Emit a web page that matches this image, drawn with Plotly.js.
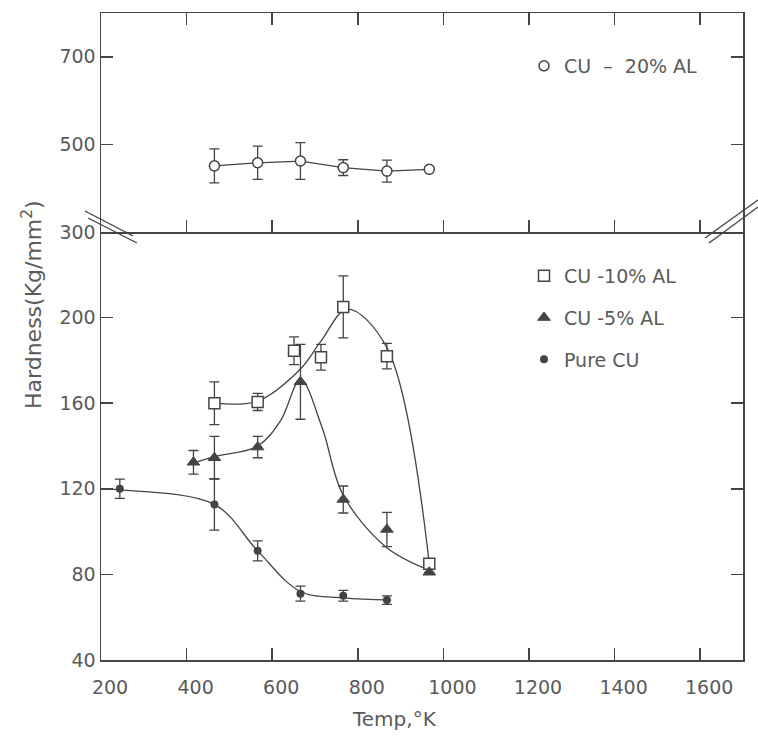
<!DOCTYPE html>
<html>
<head>
<meta charset="utf-8">
<script src="https://cdn.plot.ly/plotly-3.0.1.min.js"></script>
<style>html,body{margin:0;padding:0;background:#fff;}</style>
</head>
<body>
<div id="chart" style="width:758px;height:736px;"></div>
<script>
// ---- data ----
const xTicks = [200, 400, 600, 800, 1000, 1200, 1400, 1600];
const yTicksLow = [40, 80, 120, 160, 200];
const yTicksHigh = [300, 500, 700];

// Cu - 20% Al (upper panel)
const cu20X = [465, 566, 666, 766, 868, 967];
const cu20Y = [451, 458, 462, 447, 439, 443];
const cu20Err = [39, 38, 42, 18, 25, null];

// Cu - 10% Al
const cu10X = [465, 566, 651, 714, 766, 868, 967];
const cu10Y = [160, 160.6, 184.5, 181.5, 205, 182, 85];
const cu10Err = [10, 4, 6.5, 6, 14.5, 6, null];
const cu10FitX = [465, 566, 666, 714, 776, 868, 967];
const cu10FitY = [160, 161, 176, 189, 204, 186, 85];

// Cu - 5% Al
const cu5X = [416, 465, 566, 666, 766, 868, 967];
const cu5Y = [132.4, 134.5, 139.5, 170, 115, 101, 81];
const cu5Err = [5.5, 10, 5, 17.5, 6.3, 8, null];
const cu5FitX = [416, 465, 566, 620, 666, 716, 766, 868, 967];
const cu5FitY = [132, 135, 140, 152, 171, 149, 117, 92.5, 82];

// Pure Cu
const pureX = [244, 465, 566, 666, 766, 868];
const pureY = [120, 112.7, 91, 71, 70, 68];
const pureErr = [4.5, 12, 4.7, 3.5, 2.5, 2];
const pureFitX = [200, 244, 465, 566, 666, 766, 878];
const pureFitY = [120, 119.5, 112.7, 91, 72, 69, 68];

const names = ['CU\u00A0 –\u00A0 20% AL', 'CU -10% AL', 'CU -5% AL', 'Pure CU'];

// ---- styling ----
const ink = '#444';
const txt = '#5a5a5a';
const fam = 'DejaVu Sans, sans-serif';
const lineStyle = {color: ink, width: 1.3, shape: 'spline', smoothing: 1};
function err(a) { return {type: 'data', array: a, visible: true, color: ink, thickness: 1.3, width: 5}; }

const traces = [
  {x: cu20X, y: cu20Y, xaxis: 'x2', yaxis: 'y2', mode: 'lines', line: Object.assign({}, lineStyle, {shape: 'linear'}), showlegend: false, hoverinfo: 'skip'},
  {x: cu10FitX, y: cu10FitY, mode: 'lines', line: lineStyle, showlegend: false, hoverinfo: 'skip'},
  {x: cu5FitX, y: cu5FitY, mode: 'lines', line: lineStyle, showlegend: false, hoverinfo: 'skip'},
  {x: pureFitX, y: pureFitY, mode: 'lines', line: lineStyle, showlegend: false, hoverinfo: 'skip'},
  {x: cu20X, y: cu20Y, xaxis: 'x2', yaxis: 'y2', mode: 'markers', name: names[0], legend: 'legend',
   marker: {symbol: 'circle', size: 10, color: '#fff', line: {color: ink, width: 1.5}}, error_y: err(cu20Err)},
  {x: cu10X, y: cu10Y, mode: 'markers', name: names[1], legend: 'legend2', legendgroup: 'a',
   marker: {symbol: 'square', size: 11, color: '#fff', line: {color: ink, width: 1.5}}, error_y: err(cu10Err)},
  {x: cu5X, y: cu5Y, mode: 'markers', name: names[2], legend: 'legend2', legendgroup: 'b',
   marker: {symbol: 'triangle-up', size: 11, color: ink, line: {color: ink, width: 1}}, error_y: err(cu5Err)},
  {x: pureX, y: pureY, mode: 'markers', name: names[3], legend: 'legend2', legendgroup: 'c',
   marker: {symbol: 'circle', size: 8, color: ink}, error_y: err(pureErr)}
];

const axBase = {showgrid: false, zeroline: false, showline: true, linecolor: ink, linewidth: 1.5,
  ticks: 'inside', ticklen: 12, tickwidth: 1.5, tickcolor: ink};
const lowFrac = 0.6615;
function px2x(p) { return (p - 101) / 642; }
function px2y(p) { return (660 - p) / 647; }

const layout = {
  width: 758, height: 736,
  margin: {l: 101, r: 15, t: 13, b: 76},
  paper_bgcolor: '#fff', plot_bgcolor: 'rgba(0,0,0,0)',
  font: {family: fam, color: txt, size: 19},
  showlegend: true,
  xaxis: Object.assign({}, axBase, {domain: [0, 1], anchor: 'y', range: [200, 1700], tickvals: xTicks,
    ticklabelshift: 9, ticklabelstandoff: 10}),
  xaxis2: Object.assign({}, axBase, {domain: [0, 1], anchor: 'y2', range: [200, 1700], tickvals: xTicks.slice(1),
    mirror: 'ticks', showticklabels: false, matches: 'x'}),
  yaxis: Object.assign({}, axBase, {domain: [0, lowFrac], anchor: 'x', range: [40, 240], tickvals: yTicksLow, mirror: 'ticks'}),
  yaxis2: Object.assign({}, axBase, {domain: [lowFrac, 1], anchor: 'x2', range: [300, 800], tickvals: yTicksHigh, mirror: 'ticks'}),
  legend: {x: px2x(524), y: px2y(47), xanchor: 'left', yanchor: 'top', bgcolor: 'rgba(0,0,0,0)',
    font: {size: 19, color: txt, family: fam}},
  legend2: {x: px2x(524), y: px2y(257), xanchor: 'left', yanchor: 'top', bgcolor: 'rgba(0,0,0,0)',
    font: {size: 19, color: txt, family: fam}, tracegroupgap: 14},
  annotations: [
    {text: 'Hardness(Kg/mm<sup>2</sup>)', xref: 'paper', yref: 'paper', x: px2x(32), y: px2y(305),
     textangle: -90, showarrow: false, xanchor: 'center', yanchor: 'middle', font: {size: 22, color: txt, family: fam}},
    {text: 'Temp,°K', xref: 'paper', yref: 'paper', x: px2x(394), y: px2y(719),
     showarrow: false, xanchor: 'center', yanchor: 'middle', font: {size: 20, color: txt, family: fam}}
  ],
  shapes: [
    {type: 'line', xref: 'paper', yref: 'paper', x0: px2x(85), y0: px2y(211), x1: px2x(133), y1: px2y(236), line: {color: ink, width: 1.4}},
    {type: 'line', xref: 'paper', yref: 'paper', x0: px2x(88), y0: px2y(218), x1: px2x(137), y1: px2y(243), line: {color: ink, width: 1.4}},
    {type: 'line', xref: 'paper', yref: 'paper', x0: px2x(705), y0: px2y(238), x1: px2x(758), y1: px2y(200), line: {color: ink, width: 1.4}},
    {type: 'line', xref: 'paper', yref: 'paper', x0: px2x(709), y0: px2y(243), x1: px2x(758), y1: px2y(207), line: {color: ink, width: 1.4}}
  ]
};

Plotly.newPlot('chart', traces, layout, {staticPlot: true, displayModeBar: false});
</script>
</body>
</html>
